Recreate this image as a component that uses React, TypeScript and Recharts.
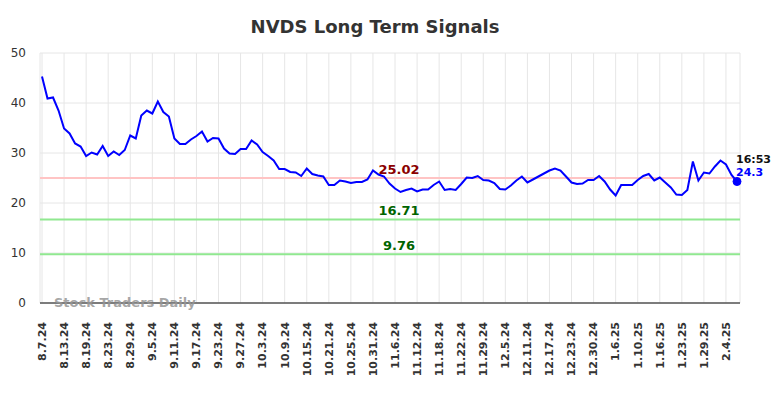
import React from "react";
import {
  LineChart,
  Line,
  XAxis,
  YAxis,
  CartesianGrid,
  ReferenceLine,
} from "recharts";

const DATES: string[] = [
  "8.7.24", "8.8.24", "8.9.24", "8.12.24", "8.13.24", "8.14.24", "8.15.24", "8.16.24",
  "8.19.24", "8.20.24", "8.21.24", "8.22.24", "8.23.24", "8.26.24", "8.27.24", "8.28.24",
  "8.29.24", "8.30.24", "9.3.24", "9.4.24", "9.5.24", "9.6.24", "9.9.24", "9.10.24",
  "9.11.24", "9.12.24", "9.13.24", "9.16.24", "9.17.24", "9.18.24", "9.19.24", "9.20.24",
  "9.23.24", "9.24.24", "9.25.24", "9.26.24", "9.27.24", "9.30.24", "10.1.24", "10.2.24",
  "10.3.24", "10.4.24", "10.7.24", "10.8.24", "10.9.24", "10.10.24", "10.11.24", "10.14.24",
  "10.15.24", "10.16.24", "10.17.24", "10.18.24", "10.21.24", "10.22.24", "10.23.24", "10.24.24",
  "10.25.24", "10.28.24", "10.29.24", "10.30.24", "10.31.24", "11.1.24", "11.4.24", "11.5.24",
  "11.6.24", "11.7.24", "11.8.24", "11.11.24", "11.12.24", "11.13.24", "11.14.24", "11.15.24",
  "11.18.24", "11.19.24", "11.20.24", "11.21.24", "11.22.24", "11.25.24", "11.26.24", "11.27.24",
  "11.29.24", "12.2.24", "12.3.24", "12.4.24", "12.5.24", "12.6.24", "12.9.24", "12.10.24",
  "12.11.24", "12.12.24", "12.13.24", "12.16.24", "12.17.24", "12.18.24", "12.19.24", "12.20.24",
  "12.23.24", "12.24.24", "12.26.24", "12.27.24", "12.30.24", "12.31.24", "1.2.25", "1.3.25",
  "1.6.25", "1.7.25", "1.8.25", "1.9.25", "1.10.25", "1.13.25", "1.14.25", "1.15.25",
  "1.16.25", "1.17.25", "1.21.25", "1.22.25", "1.23.25", "1.24.25", "1.27.25", "1.28.25",
  "1.29.25", "1.30.25", "1.31.25", "2.3.25", "2.4.25", "2.5.25", "2.6.25",
];

const PRICES: number[] = [
  45.3, 40.9, 41.1, 38.5, 34.9, 33.9, 31.9, 31.3,
  29.4, 30.1, 29.7, 31.4, 29.4, 30.3, 29.6, 30.6,
  33.5, 32.9, 37.5, 38.5, 37.9, 40.3, 38.2, 37.3,
  32.9, 31.8, 31.8, 32.7, 33.4, 34.3, 32.3, 33.0,
  32.9, 30.9, 29.9, 29.8, 30.8, 30.8, 32.5, 31.7,
  30.2, 29.4, 28.5, 26.8, 26.8, 26.2, 26.1, 25.4,
  26.9, 25.8, 25.5, 25.3, 23.6, 23.6, 24.5, 24.3,
  24.0, 24.2, 24.2, 24.7, 26.5, 25.7, 25.3, 23.9,
  22.9, 22.2, 22.6, 22.9, 22.3, 22.7, 22.7, 23.6,
  24.3, 22.6, 22.8, 22.6, 23.8, 25.1, 25.0, 25.4,
  24.6, 24.5, 24.0, 22.8, 22.7, 23.5, 24.5, 25.3,
  24.1, 24.7, 25.3, 25.9, 26.5, 26.9, 26.5, 25.3,
  24.1, 23.8, 23.9, 24.6, 24.6, 25.4, 24.3, 22.7,
  21.5, 23.6, 23.6, 23.6, 24.6, 25.4, 25.8, 24.5,
  25.1, 24.1, 23.1, 21.7, 21.6, 22.6, 28.3, 24.5,
  26.1, 25.9, 27.3, 28.5, 27.7, 25.6, 24.3,
];

const Y_TICKS: number[] = [0, 10, 20, 30, 40, 50];
const RESISTANCE = 25.02;
const SUPPORT_HIGH = 16.71;
const SUPPORT_LOW = 9.76;
const LAST_TIME = "16:53";
const TITLE = "NVDS Long Term Signals";
const WATERMARK = "Stock Traders Daily";

const data = DATES.map((d, i) => ({ date: d, price: PRICES[i] }));
const LAST = data.length - 1;

const FONT = "'DejaVu Sans', sans-serif";

const XTick = (props: any) => {
  const { x, y, payload } = props;
  const ay = y + 11;
  return (
    <text
      x={x}
      y={ay}
      transform={`rotate(-90, ${x}, ${ay})`}
      textAnchor="end"
      dy="0.35em"
      fontSize={11}
      fontWeight="bold"
      fill="#333"
      fontFamily={FONT}
    >
      {payload.value}
    </text>
  );
};

const RefLabel = (props: any) => {
  const { viewBox, text, color } = props;
  if (!viewBox) return null;
  return (
    <text
      x={viewBox.x + viewBox.width * 0.513}
      y={viewBox.y - 4}
      textAnchor="middle"
      fontSize={13}
      fontWeight="bold"
      fill={color}
      fontFamily={FONT}
    >
      {text}
    </text>
  );
};

const LastDot = (props: any) => {
  const { cx, cy, index, value } = props;
  if (index !== LAST) return <g key={`d${index}`} />;
  return (
    <g key={`d${index}`}>
      <circle cx={cx} cy={cy} r={4} fill="#0000ff" stroke="#0000ff" />
      <text x={cx - 1} y={cy - 19} fontSize={11} fontWeight="bold" fill="#111" fontFamily={FONT}>
        {LAST_TIME}
      </text>
      <text x={cx - 1} y={cy - 6} fontSize={11} fontWeight="bold" fill="#0000ff" fontFamily={FONT}>
        {value}
      </text>
    </g>
  );
};

export default function App() {
  return (
    <div style={{ position: "absolute", left: 0, top: 0, width: 784, height: 398, background: "#fff" }}>
      <LineChart
        width={784}
        height={398}
        data={data}
        margin={{ top: 53, right: 44, bottom: 0, left: 0 }}
      >
        <CartesianGrid stroke="#e6e6e6" strokeWidth={1} />
        <XAxis
          dataKey="date"
          interval={3}
          height={95}
          tickLine={false}
          axisLine={{ stroke: "#555", strokeWidth: 1.5 }}
          tick={<XTick />}
          padding={{ left: 2, right: 3 }}
        />
        <YAxis
          width={40}
          domain={[0, 50]}
          ticks={Y_TICKS}
          axisLine={false}
          tickLine={false}
          tickMargin={8}
          tick={{ fontSize: 12, fill: "#333", fontFamily: FONT }}
        />
        <ReferenceLine
          y={RESISTANCE}
          stroke="#ffc4c4"
          strokeWidth={2}
          label={<RefLabel text={RESISTANCE.toFixed(2)} color="#8b0000" />}
        />
        <ReferenceLine
          y={SUPPORT_HIGH}
          stroke="#90e890"
          strokeWidth={2}
          label={<RefLabel text={SUPPORT_HIGH.toFixed(2)} color="#006400" />}
        />
        <ReferenceLine
          y={SUPPORT_LOW}
          stroke="#90e890"
          strokeWidth={2}
          label={<RefLabel text={SUPPORT_LOW.toFixed(2)} color="#006400" />}
        />
        <Line
          type="linear"
          dataKey="price"
          stroke="#0000ff"
          strokeWidth={2}
          dot={LastDot}
          activeDot={false}
          isAnimationActive={false}
        />
      </LineChart>
      <div
        style={{
          position: "absolute",
          left: 0,
          top: 18,
          width: 750,
          textAlign: "center",
          fontFamily: FONT,
          fontSize: 18,
          lineHeight: "18px",
          fontWeight: "bold",
          color: "#333",
        }}
      >
        {TITLE}
      </div>
      <div
        style={{
          position: "absolute",
          left: 54,
          top: 296,
          fontFamily: FONT,
          fontSize: 13,
          lineHeight: "13px",
          fontWeight: "bold",
          color: "rgba(150,150,150,0.85)",
          whiteSpace: "nowrap",
        }}
      >
        {WATERMARK}
      </div>
    </div>
  );
}
